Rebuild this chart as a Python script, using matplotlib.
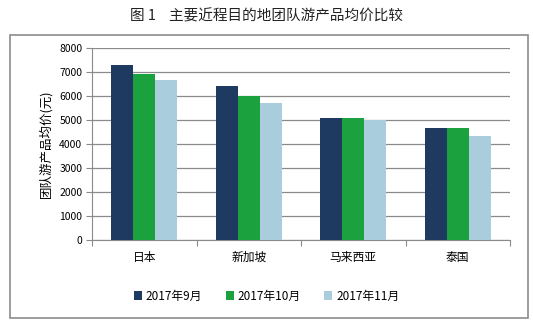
import matplotlib
matplotlib.use('Agg')
import numpy as np
import matplotlib.pyplot as plt
from matplotlib.patches import Rectangle

plt.rcParams['font.family'] = ['Noto Sans CJK SC', 'DejaVu Sans']

# 目的地 및 월별 평균가격 (元)
categories = ['日本', '新加坡', '马来西亚', '泰国']
series_names = ['2017年9月', '2017年10月', '2017年11月']
sep_vals = [7300, 6430, 5100, 4650]
oct_vals = [6930, 5980, 5100, 4650]
nov_vals = [6680, 5720, 5000, 4350]
yticks = [0, 1000, 2000, 3000, 4000, 5000, 6000, 7000, 8000]

colors = ['#1F3A60', '#1BA23F', '#A9CDDC']

fig = plt.figure(figsize=(5.33, 3.26), dpi=100)
fig.patch.set_facecolor('white')

# 바깥 테두리
fig.patches.append(Rectangle((10/533, 1-318/326), 518/533, 283/326,
                             transform=fig.transFigure, fill=False,
                             edgecolor='#8c8c8c', linewidth=1.2))

fig.text(0.5, 1-16/326, '图 1    主要近程目的地团队游产品均价比较',
         ha='center', va='center', fontsize=10.5, color='#222222')

ax = fig.add_axes([92/533, 1-240/326, 418/533, 192/326])
x = np.arange(len(categories))
w = 0.21
for i, vals in enumerate([sep_vals, oct_vals, nov_vals]):
    ax.bar(x + (i - 1) * w, vals, width=w, color=colors[i],
           label=series_names[i], zorder=3)

ax.set_xlim(-0.5, len(categories) - 0.5)
ax.set_ylim(0, 8000)
ax.set_yticks(yticks)
ax.yaxis.grid(True, color='#8a8a8a', linewidth=0.9, zorder=0)
ax.set_xticks(np.arange(len(categories) + 1) - 0.5)
ax.set_xticklabels([])
ax.set_xticks(x, minor=True)
ax.set_xticklabels(categories, minor=True, fontsize=8.5)
ax.tick_params(axis='x', which='minor', length=0, pad=8)
ax.tick_params(axis='x', which='major', length=4, color='#8a8a8a')
ax.tick_params(axis='y', length=4, color='#8a8a8a', labelsize=7.5, pad=3)
for s in ['top', 'right']:
    ax.spines[s].set_visible(False)
for s in ['left', 'bottom']:
    ax.spines[s].set_color('#8a8a8a')
ax.set_ylabel('团队游产品均价(元)', fontsize=9, labelpad=5)

ax.legend(loc='center', bbox_to_anchor=(0.5, 1-296/326), bbox_transform=fig.transFigure,
          ncol=3, frameon=False, fontsize=8.5, handlelength=0.7, handleheight=0.7,
          handletextpad=0.3, columnspacing=2.0)

fig.savefig('out.png', dpi=100)
